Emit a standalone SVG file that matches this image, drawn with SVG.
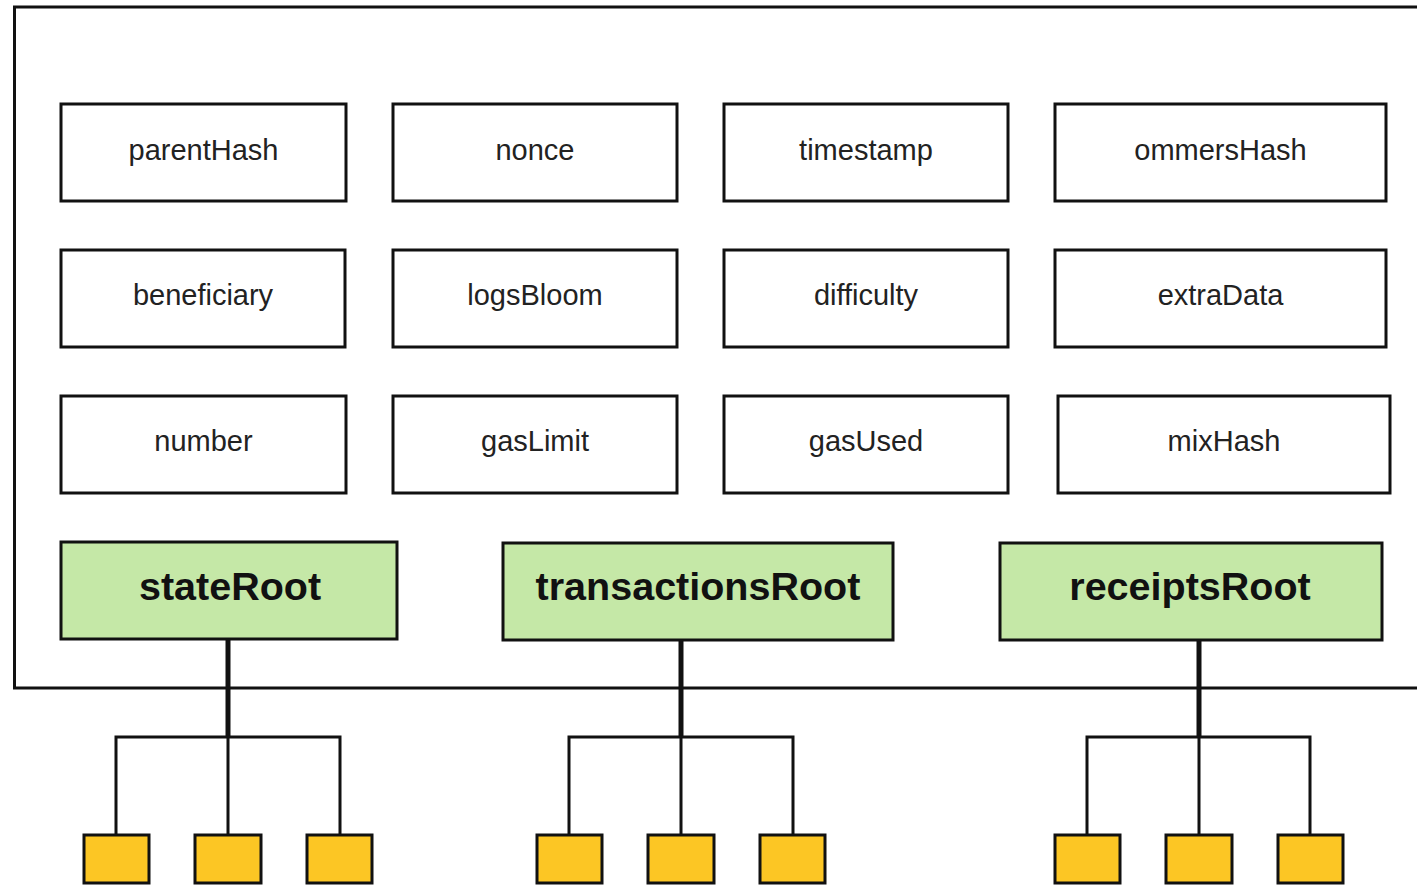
<svg xmlns="http://www.w3.org/2000/svg" width="1417" height="885" viewBox="0 0 1417 885">
<style>
.f{fill:#fff;stroke:#111;stroke-width:3}
.g{fill:#c5e8a7;stroke:#111;stroke-width:3}
.y{fill:#fcc624;stroke:#111;stroke-width:3}
.t{font-family:"Liberation Sans",Arial,sans-serif;font-size:29px;fill:#222;text-anchor:middle}
.b{font-family:"Liberation Sans",Arial,sans-serif;font-size:39.5px;font-weight:bold;fill:#111;text-anchor:middle}
.c{fill:none;stroke:#111;stroke-width:3}
.k{fill:none;stroke:#111;stroke-width:5}
</style>
<rect width="1417" height="885" fill="#fff"/>
<path d="M1420 7 H14.5 V688 H1420" fill="none" stroke="#111" stroke-width="3"/>
<g id="parentHash"><rect class="f" x="61" y="104" width="285" height="97"/><text class="t" x="203.5" y="160">parentHash</text></g>
<g id="nonce"><rect class="f" x="393" y="104" width="284" height="97"/><text class="t" x="535" y="160">nonce</text></g>
<g id="timestamp"><rect class="f" x="724" y="104" width="284" height="97"/><text class="t" x="866" y="160">timestamp</text></g>
<g id="ommersHash"><rect class="f" x="1055" y="104" width="331" height="97"/><text class="t" x="1220.5" y="160">ommersHash</text></g>
<g id="beneficiary"><rect class="f" x="61" y="250" width="284" height="97"/><text class="t" x="203" y="305">beneficiary</text></g>
<g id="logsBloom"><rect class="f" x="393" y="250" width="284" height="97"/><text class="t" x="535" y="305">logsBloom</text></g>
<g id="difficulty"><rect class="f" x="724" y="250" width="284" height="97"/><text class="t" x="866" y="305">difficulty</text></g>
<g id="extraData"><rect class="f" x="1055" y="250" width="331" height="97"/><text class="t" x="1220.5" y="305">extraData</text></g>
<g id="number"><rect class="f" x="61" y="396" width="285" height="97"/><text class="t" x="203.5" y="451">number</text></g>
<g id="gasLimit"><rect class="f" x="393" y="396" width="284" height="97"/><text class="t" x="535" y="451">gasLimit</text></g>
<g id="gasUsed"><rect class="f" x="724" y="396" width="284" height="97"/><text class="t" x="866" y="451">gasUsed</text></g>
<g id="mixHash"><rect class="f" x="1058" y="396" width="332" height="97"/><text class="t" x="1224" y="451">mixHash</text></g>
<g id="connectors">
<path class="k" d="M228 639 V737"/>
<path class="c" d="M116 835 V737 H340 V835 M228 737 V835"/>
<path class="k" d="M681 640 V737"/>
<path class="c" d="M569 835 V737 H793 V835 M681 737 V835"/>
<path class="k" d="M1199 640 V737"/>
<path class="c" d="M1087 835 V737 H1310 V835 M1199 737 V835"/>
</g>
<g id="stateRoot"><rect class="g" x="61" y="542" width="336" height="97"/><text class="b" x="230" y="600">stateRoot</text></g>
<g id="transactionsRoot"><rect class="g" x="503" y="543" width="390" height="97"/><text class="b" x="698" y="600">transactionsRoot</text></g>
<g id="receiptsRoot"><rect class="g" x="1000" y="543" width="382" height="97"/><text class="b" x="1190" y="600">receiptsRoot</text></g>
<g id="s1"><rect class="y" x="84" y="835" width="65" height="48"/></g>
<g id="s2"><rect class="y" x="195" y="835" width="66" height="48"/></g>
<g id="s3"><rect class="y" x="307" y="835" width="65" height="48"/></g>
<g id="t1"><rect class="y" x="537" y="835" width="65" height="48"/></g>
<g id="t2"><rect class="y" x="648" y="835" width="66" height="48"/></g>
<g id="t3"><rect class="y" x="760" y="835" width="65" height="48"/></g>
<g id="r1"><rect class="y" x="1055" y="835" width="65" height="48"/></g>
<g id="r2"><rect class="y" x="1166" y="835" width="66" height="48"/></g>
<g id="r3"><rect class="y" x="1278" y="835" width="65" height="48"/></g>
</svg>
